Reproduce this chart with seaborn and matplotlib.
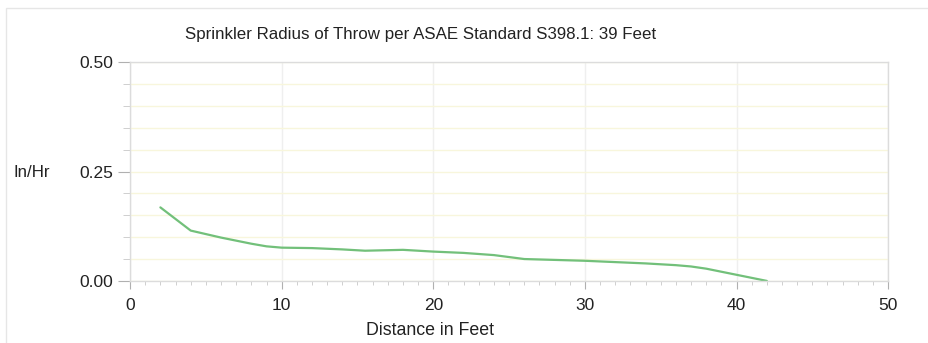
import numpy as np
import pandas as pd
import matplotlib
matplotlib.use("Agg")
import matplotlib.pyplot as plt
from matplotlib.ticker import MultipleLocator
import seaborn as sns

# distance from sprinkler (ft) and application rate (in/hr)
distance_ft = [2, 4, 6, 8, 9, 10, 12, 14, 15.5, 18, 20, 22, 24, 26, 28, 30, 32, 34, 36, 37, 38, 40, 42]
rate_in_hr = [0.168, 0.115, 0.099, 0.085, 0.079, 0.076, 0.075, 0.072, 0.069, 0.071, 0.067, 0.064,
              0.059, 0.050, 0.048, 0.046, 0.043, 0.040, 0.036, 0.033, 0.028, 0.014, 0.000]

title = "Sprinkler Radius of Throw per ASAE Standard S398.1: 39 Feet"
x_label = "Distance in Feet"
y_label = "In/Hr"
x_ticks = [0, 10, 20, 30, 40, 50]
y_ticks = [0.00, 0.25, 0.50]


def main():
    sns.set_theme(style="white")
    plt.rcParams["font.family"] = ["Liberation Sans", "DejaVu Sans"]

    df = pd.DataFrame({"distance": distance_ft, "rate": rate_in_hr})

    fig = plt.figure(figsize=(9.29, 3.43), dpi=100)
    ax = fig.add_axes([0.140, 0.181, 0.816, 0.638])

    sns.lineplot(data=df, x="distance", y="rate", ax=ax, color="#72c07a", linewidth=1.6)

    ax.set_xlim(0, 50)
    ax.set_ylim(0, 0.5)
    ax.set_xticks(x_ticks)
    ax.set_yticks(y_ticks)
    ax.set_yticklabels([f"{v:.2f}" for v in y_ticks])
    ax.xaxis.set_minor_locator(MultipleLocator(1))
    ax.yaxis.set_minor_locator(MultipleLocator(0.05))

    # grid: faint yellow horizontals, light grey verticals at majors
    ax.grid(False)
    ax.yaxis.grid(True, which="both", color="#f8f6dc", linewidth=1.0)
    ax.xaxis.grid(True, which="major", color="#efefef", linewidth=1.0)
    ax.set_axisbelow(True)

    for side in ["left", "bottom", "right", "top"]:
        ax.spines[side].set_color("#dcdcdc")
        ax.spines[side].set_linewidth(1.0)

    ax.tick_params(axis="both", which="major", direction="out", width=0.8,
                   color="#b0b0b0", labelsize=12.5, labelcolor="#222222")
    ax.tick_params(axis="x", which="major", length=6, pad=6)
    ax.tick_params(axis="y", which="major", length=9, pad=3)
    ax.tick_params(axis="x", which="minor", direction="out", length=3, width=0.6,
                   color="#c8c8c8")
    ax.tick_params(axis="y", which="minor", direction="out", length=5, width=0.6,
                   color="#c8c8c8")
    ax.tick_params(axis="x", which="both", bottom=True)
    ax.tick_params(axis="y", which="both", left=True)

    ax.set_xlabel("")
    ax.set_ylabel("")

    fig.text(0.453, 0.898, title, ha="center", va="center", fontsize=12.2, color="#222222")
    fig.text(0.463, 0.035, x_label, ha="center", va="center", fontsize=12.8, color="#222222")
    fig.text(0.014, 0.496, y_label, ha="left", va="center", fontsize=12.2, color="#222222")

    # thin outer frame like the original panel
    fig.add_artist(plt.Rectangle((0.006, -0.05), 1.2, 1.027, transform=fig.transFigure,
                                 fill=False, edgecolor="#e6e6e6", linewidth=1.0))

    fig.savefig("out.png", dpi=100)
    plt.close(fig)


if __name__ == "__main__":
    main()
